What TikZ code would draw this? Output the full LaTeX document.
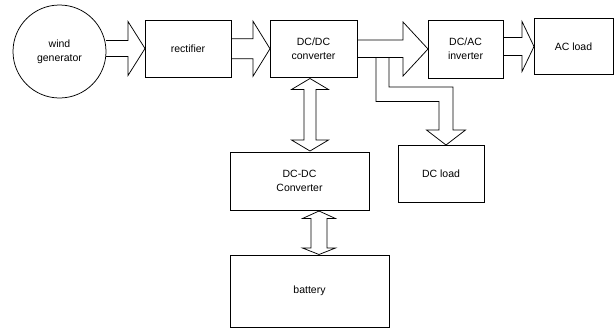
\documentclass[tikz,border=0pt]{standalone}
\usepackage{fontspec}
\setmainfont{Liberation Sans}
\usetikzlibrary{calc}

% horizontal open block arrow from node #1 to node #2
% #3 shaft half-height, #4 head half-height, #5 head length
\newcommand\hblock[5]{%
  \draw[blockline]
    ($(#1.east |- #2.west)+(0,-#3)$) -- ($(#2.west)+(-#5,-#3)$)
    -- ($(#2.west)+(-#5,-#4)$) -- (#2.west) -- ($(#2.west)+(-#5,#4)$)
    -- ($(#2.west)+(-#5,#3)$) -- ($(#1.east |- #2.west)+(0,#3)$);}

% vertical two-headed open block arrow between named tip coordinates #1 (top) and #2 (bottom)
% #3 shaft half-width, #4 head half-width, #5 top head length, #6 bottom head length
\newcommand\vdouble[6]{%
  \draw[blockline]
    (#1) -- ($(#1)+(#4,#5)$) -- ($(#1)+(#3,#5)$) -- ($(#2)+(#3,-#6)$)
    -- ($(#2)+(#4,-#6)$) -- (#2) -- ($(#2)+(-#4,-#6)$) -- ($(#2)+(-#3,-#6)$)
    -- ($(#1)+(-#3,#5)$) -- ($(#1)+(-#4,#5)$) -- cycle;}

\begin{document}
\begin{tikzpicture}[x=1pt,y=-1pt,
  line width=0.75pt,
  blockline/.style={draw=black,line width=0.75pt,line join=miter},
  unit/.style={draw=black,line width=0.75pt,rectangle,inner sep=0pt,outer sep=0pt,
    align=center,font=\fontsize{10.5}{14}\selectfont},
  gencircle/.style={draw=black,line width=0.75pt,circle,inner sep=0pt,outer sep=0pt,
    minimum size=93pt,align=center,font=\fontsize{10.5}{14}\selectfont}]
  \useasboundingbox[fill=white] (0,0) rectangle (615,330);

  % units
  \node[gencircle] (gen) at (59.5,51.5) {wind\\generator};
  \node[unit,minimum width=86pt,minimum height=57pt] (rect) at (188,48.5) {rectifier};
  \node[unit,minimum width=87pt,minimum height=57pt] (dcdc) at (313.5,48.75) {DC/DC\\converter};
  \node[unit,minimum width=75pt,minimum height=58pt] (dcac) at (465.5,49) {DC/AC\\inverter};
  \node[unit,minimum width=79pt,minimum height=56pt] (acload) at (573.5,46.5) {AC load};
  \node[unit,minimum width=139pt,minimum height=58pt] (conv) at (299.5,181) {DC-DC\\Converter};
  \node[unit,minimum width=86pt,minimum height=57pt] (dcload) at (441,173.5) {DC load};
  \node[unit,minimum width=159pt,minimum height=72pt] (batt) at (309.5,291) {battery};

  % power flow along the main line
  \hblock{gen}{rect}{8}{27}{17}
  \hblock{rect}{dcdc}{10}{27.5}{17}
  \hblock{dcac}{acload}{9}{25}{12}

  % DC/DC to inverter, with the branch to the DC load
  \coordinate (dcloadtip) at ($(dcload.north)+(5,0)$);
  \draw[blockline]
    ($(dcdc.east |- dcac.west)+(0,-9)$) -- ($(dcac.west)+(-25,-9)$)
    -- ($(dcac.west)+(-25,-27)$) -- (dcac.west) -- ($(dcac.west)+(-25,27)$)
    -- ($(dcac.west)+(-25,8.5)$) -- ($(dcdc.east |- dcac.west)+(0,8.5)$);
  \draw[blockline]
    ($(dcac.west)+(-52,8.5)$) -- ++(0,44) -- ++(63,0) -- ($(dcloadtip)+(-7,-15)$)
    -- ($(dcloadtip)+(-19.5,-15)$) -- (dcloadtip) -- ($(dcloadtip)+(19.5,-15)$)
    -- ($(dcloadtip)+(7,-15)$) -- ($(dcloadtip)+(7,-58)$) -- ($(dcac.west)+(-39,38)$)
    -- ($(dcac.west)+(-39,8.5)$);

  % storage path: converter to DC-DC converter to battery
  \coordinate (s1top) at (310,78.5);
  \coordinate (s1bot) at (310,151);
  \vdouble{s1top}{s1bot}{6}{18.5}{11}{11}
  \coordinate (s2top) at (319,211);
  \coordinate (s2bot) at (319,254.5);
  \vdouble{s2top}{s2bot}{8}{16.5}{7.5}{6.5}
\end{tikzpicture}
\end{document}
